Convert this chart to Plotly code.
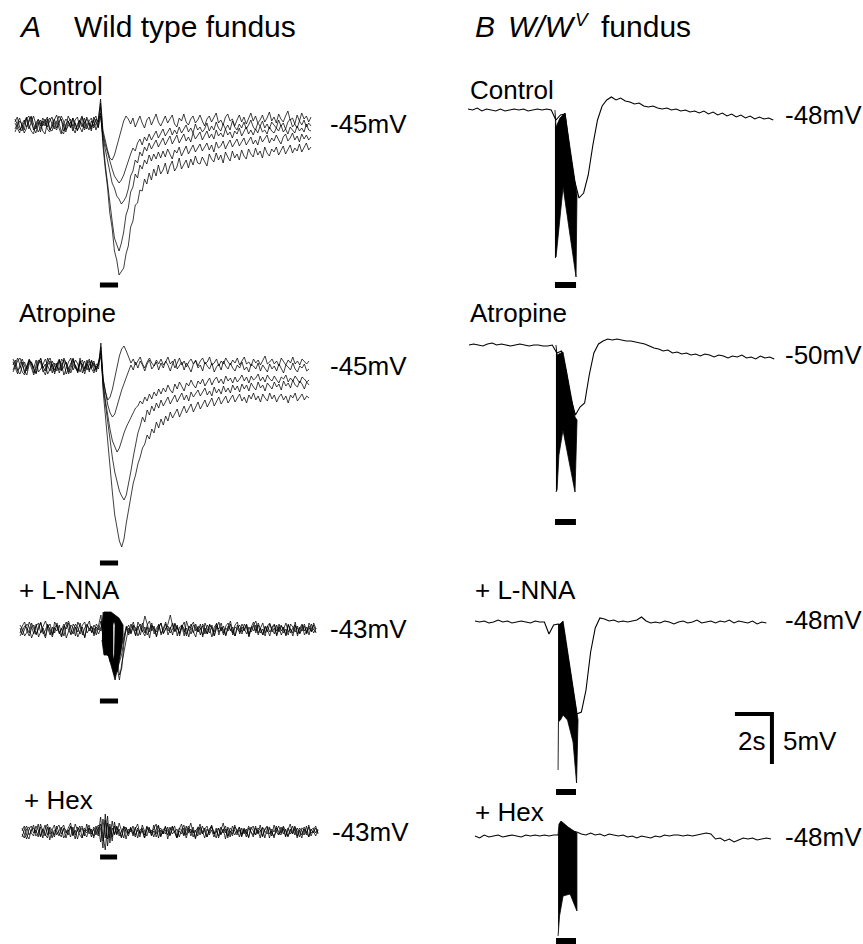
import plotly.graph_objects as go

# ------------------------------------------------------------------
# DATA. Traces are deviations from the resting
# membrane potential (mV), sampled every DT seconds from trace start.
# ------------------------------------------------------------------
DT_A = 0.125  # s, wild-type traces
DT_B = 0.25   # s, W/Wv traces

CONDITIONS = ["Control", "Atropine", "+ L-NNA", "+ Hex"]
RESTING_A = [-45, -45, -43, -43]   # mV, wild type
RESTING_B = [-48, -50, -48, -48]   # mV, W/Wv

# ---- Panel A: wild type, superimposed IJPs ----
A_CONTROL_1 = [
    0.3,0.8,-0.2,-0.6,0.1,0.7,-0.4,0.2,0.9,0.1,-0.7,-0.3,0.4,-0.1,0.6,-0.5,
    -0.2,0.5,1.0,0.2,-0.6,-0.9,0.1,0.4,-0.3,0.7,0.2,-0.5,-0.1,0.8,0.3,-0.4,
    0.2,-0.6,0.5,0.9,-0.2,1.8,-2.0,-4.3,-6.2,-8.8,-10.3,-12.6,-13.5,-15.0,-14.6,-14.3,
    -12.9,-12.1,-10.2,-9.6,-8.0,-7.8,-6.5,-6.6,-5.4,-5.9,-4.8,-5.5,-4.4,-5.1,-4.0,-4.9,
    -4.5,-3.8,-4.9,-4.1,-3.6,-4.6,-4.2,-3.3,-4.4,-3.9,-3.5,-4.3,-3.4,-4.0,-3.1,-3.8,
    -3.9,-3.2,-3.6,-4.1,-2.9,-3.4,-3.7,-2.8,-3.5,-3.0,-3.8,-2.7,-3.2,-3.6,-2.6,-3.3,
    -2.9,-3.5,-2.5,-3.1,-3.4,-2.4,-2.9,-3.2,-2.3,-3.0,-2.6,-3.3,-2.2,-2.8,-3.1,-2.4,
    -2.7,-2.2,-3.0,-2.5,-2.1,-2.9,-2.4,-2.0,-2.8,-2.3,-2.6,-1.9,-2.7,-2.2,-1.8,-2.5,
    -2.2]
A_CONTROL_2 = [
    -0.4,0.2,0.7,-0.1,-0.8,-0.3,0.5,0.9,0.1,-0.4,0.3,-0.7,0.2,0.6,-0.2,0.4,
    0.8,-0.1,-0.5,0.3,0.6,-0.6,-0.2,0.9,0.4,-0.3,-0.8,0.1,0.5,-0.2,0.7,0.0,
    -0.5,0.4,-0.1,0.6,0.3,1.2,-1.6,-3.9,-5.8,-7.9,-9.6,-11.3,-12.0,-12.6,-11.8,-10.7,
    -9.0,-8.3,-6.7,-6.2,-4.9,-5.3,-4.0,-4.4,-3.5,-3.9,-3.0,-3.6,-2.9,-3.4,-2.7,-3.3,
    -2.6,-3.2,-2.4,-2.9,-3.4,-2.5,-2.8,-2.2,-3.1,-2.6,-2.1,-2.9,-2.4,-2.0,-2.7,-2.3,
    -1.9,-2.6,-2.2,-1.8,-2.5,-2.0,-2.7,-1.7,-2.3,-2.1,-1.6,-2.4,-1.9,-1.5,-2.2,-1.8,
    -1.4,-2.1,-1.7,-1.3,-2.0,-1.6,-1.2,-1.9,-1.5,-2.0,-1.1,-1.7,-1.4,-1.0,-1.8,-1.3,
    -1.6,-1.0,-1.5,-1.9,-1.2,-0.9,-1.6,-1.3,-0.8,-1.5,-1.1,-1.7,-0.9,-1.4,-1.0,-1.5,
    -1.2]
A_CONTROL_3 = [
    0.6,0.1,-0.5,-0.2,0.4,0.8,0.0,-0.6,-0.9,0.2,0.5,-0.1,0.7,0.3,-0.4,-0.7,
    0.1,0.6,-0.3,0.2,0.9,0.4,-0.5,-0.1,0.3,-0.6,0.5,0.8,-0.2,-0.7,0.2,0.6,
    0.1,-0.4,0.8,0.2,-0.3,0.9,-1.1,-2.4,-3.6,-4.7,-5.8,-6.3,-7.1,-7.4,-7.9,-7.6,
    -7.2,-6.4,-5.1,-4.6,-3.5,-3.8,-2.7,-3.1,-2.2,-2.6,-1.8,-2.4,-2.0,-1.5,-2.2,-1.7,
    -1.3,-2.0,-1.6,-1.1,-1.9,-1.4,-1.0,-1.8,-1.3,-0.9,-1.6,-1.2,-1.7,-0.8,-1.4,-1.1,
    -0.7,-1.5,-1.0,-0.6,-1.3,-0.9,-1.4,-0.5,-1.1,-0.8,-1.2,-0.4,-1.0,-0.7,-1.3,-0.6,
    -0.9,-0.3,-1.1,-0.6,-0.2,-0.9,-0.5,-1.0,-0.4,-0.8,-0.1,-0.7,-0.5,-0.9,-0.2,-0.6,
    -0.8,-0.3,-0.6,0.0,-0.7,-0.4,-0.9,-0.2,-0.5,-0.8,-0.1,-0.6,-0.3,-0.7,0.1,-0.5,
    -0.6]
A_CONTROL_4 = [
    -0.7,-0.2,0.4,0.1,-0.5,0.6,0.9,0.2,-0.3,-0.8,0.0,0.5,-0.1,0.3,0.8,-0.4,
    -0.6,0.2,0.4,-0.3,-0.9,0.1,0.6,0.3,-0.2,0.7,-0.4,-0.1,0.5,0.9,-0.5,0.0,
    0.4,0.7,-0.3,0.1,0.6,2.2,-0.8,-1.9,-2.8,-3.7,-4.4,-5.1,-5.4,-5.8,-5.5,-5.0,
    -4.3,-3.5,-2.9,-2.3,-2.6,-1.8,-1.4,-2.0,-1.2,-1.6,-0.9,-1.5,-1.1,-0.6,-1.3,-0.8,
    -0.4,-1.1,-0.7,-0.3,-1.0,-0.5,-0.9,-0.2,-0.8,-0.4,0.0,-0.7,-0.3,-0.8,0.1,-0.5,
    -0.2,-0.7,-0.4,0.2,-0.6,-0.1,-0.5,0.3,-0.3,-0.6,0.1,-0.4,0.0,-0.5,0.4,-0.2,
    -0.5,0.1,-0.3,0.3,-0.4,0.0,0.5,-0.2,-0.5,0.2,-0.1,0.4,-0.3,0.1,-0.4,0.3,
    0.0,-0.3,0.5,-0.1,0.2,-0.4,0.3,0.6,-0.2,0.1,-0.3,0.4,0.0,0.5,-0.2,0.2,
    -0.1]
A_CONTROL_5 = [
    0.2,-0.3,-0.8,0.1,0.5,-0.2,0.3,0.8,-0.5,-0.1,0.6,0.2,-0.6,-0.9,0.3,0.7,
    0.1,-0.4,0.2,0.9,0.5,-0.2,-0.7,0.3,0.6,-0.1,0.2,-0.6,0.4,0.1,-0.3,0.8,
    0.3,-0.2,0.5,-0.5,0.2,2.6,-0.5,-1.6,-2.5,-3.3,-3.5,-3.0,-2.2,-1.3,-0.4,0.4,
    0.9,0.6,0.1,0.7,-0.2,0.4,0.9,0.2,-0.3,0.5,0.8,0.0,0.6,1.1,0.3,-0.1,
    0.4,0.9,0.2,0.6,1.0,0.1,-0.2,0.7,0.4,1.1,0.3,0.0,0.6,0.9,0.2,0.5,
    1.0,0.4,-0.1,0.6,0.9,0.3,0.7,1.2,0.2,0.5,0.0,0.8,1.1,0.4,0.6,-0.1,
    0.5,1.0,0.3,0.8,0.1,0.6,1.2,0.4,0.9,0.2,0.5,1.0,0.3,0.7,1.3,0.4,
    0.8,0.2,1.1,0.6,0.3,0.9,1.4,0.5,0.7,0.1,1.0,0.4,1.2,0.6,0.9,0.3,
    0.8]

A_ATROPINE_1 = [
    0.5,-0.2,-0.7,0.3,0.8,0.1,-0.4,0.6,-0.1,-0.8,0.2,0.7,0.4,-0.5,-0.2,0.9,
    0.2,-0.6,0.4,0.1,-0.3,0.8,0.5,-0.7,-0.2,0.3,0.9,-0.1,-0.5,0.6,0.2,-0.4,
    0.7,-0.3,0.1,0.6,-0.5,0.4,2.0,-2.5,-5.0,-7.8,-10.4,-12.6,-14.8,-16.3,-17.4,-18.0,
    -17.2,-15.6,-14.1,-12.9,-11.6,-10.8,-9.7,-9.0,-8.1,-7.7,-6.8,-7.2,-6.2,-6.6,-5.5,-6.1,
    -5.2,-5.8,-4.9,-5.4,-4.5,-5.1,-4.7,-4.2,-5.0,-4.4,-3.9,-4.6,-4.1,-3.7,-4.5,-3.9,
    -3.5,-4.2,-3.8,-3.3,-4.0,-3.6,-3.1,-3.9,-3.4,-3.0,-3.7,-3.3,-2.9,-3.6,-3.2,-2.8,
    -3.5,-3.1,-2.7,-3.4,-3.0,-3.6,-2.8,-3.2,-2.6,-3.3,-2.9,-3.5,-2.7,-3.1,-3.4,-2.6,
    -3.2,-2.8,-3.5,-3.0,-2.7,-3.3,-2.9,-3.6,-2.8,-3.1,-2.6,-3.4,-3.0,-2.7,-3.3,-2.9,
    -3.1]
A_ATROPINE_2 = [
    -0.3,0.4,0.9,0.2,-0.5,-0.8,0.1,0.6,0.3,-0.2,-0.6,0.5,0.8,-0.1,0.3,-0.7,
    -0.2,0.6,0.1,-0.4,0.7,0.3,-0.8,-0.1,0.5,0.9,-0.3,0.2,-0.6,0.4,0.7,-0.2,
    0.3,-0.5,0.6,0.1,-0.2,0.5,1.4,-2.0,-3.9,-5.8,-7.6,-9.1,-10.5,-11.6,-12.4,-12.9,
    -13.3,-12.8,-11.7,-10.4,-9.0,-7.9,-6.6,-5.9,-5.0,-5.5,-4.3,-4.8,-3.9,-4.4,-3.6,-4.1,
    -3.3,-3.9,-3.5,-3.0,-3.7,-3.2,-2.8,-3.5,-3.0,-2.6,-3.3,-2.8,-3.4,-2.5,-3.0,-2.7,
    -2.3,-2.9,-2.5,-2.1,-2.8,-2.4,-2.9,-2.0,-2.6,-2.2,-2.7,-1.9,-2.5,-2.1,-2.6,-1.8,
    -2.3,-1.9,-2.5,-1.7,-2.2,-1.8,-2.4,-1.6,-2.0,-2.3,-1.5,-2.1,-1.8,-2.4,-1.6,-1.9,
    -2.2,-1.5,-2.0,-1.7,-2.3,-1.4,-1.9,-1.6,-2.1,-1.3,-1.8,-2.0,-1.4,-1.7,-2.2,-1.5,
    -1.8]
A_ATROPINE_3 = [
    0.8,0.2,-0.4,-0.7,0.1,0.5,-0.2,0.7,0.3,-0.6,-0.1,0.4,0.9,-0.3,-0.8,0.2,
    0.6,-0.1,-0.5,0.3,0.8,-0.4,0.1,0.5,-0.7,-0.2,0.6,0.2,-0.3,0.9,-0.6,0.0,
    0.4,0.8,-0.2,-0.6,0.3,0.1,1.6,-1.6,-3.4,-5.0,-6.3,-7.4,-8.0,-8.5,-8.1,-7.2,
    -6.6,-6.0,-5.5,-5.0,-4.6,-4.1,-3.9,-3.4,-3.7,-3.0,-3.4,-2.7,-3.2,-2.5,-2.9,-2.2,
    -2.7,-2.1,-2.5,-1.8,-2.3,-2.6,-1.7,-2.2,-1.5,-2.0,-2.4,-1.6,-1.9,-1.3,-1.8,-2.1,
    -1.4,-1.7,-1.2,-1.9,-1.5,-1.1,-1.8,-1.3,-1.0,-1.6,-1.2,-1.7,-0.9,-1.4,-1.1,-1.6,
    -1.0,-1.5,-1.2,-0.8,-1.4,-1.0,-1.6,-0.9,-1.3,-1.1,-0.7,-1.4,-1.0,-1.5,-0.8,-1.2,
    -1.4,-0.9,-1.3,-1.6,-1.0,-1.2,-0.8,-1.5,-1.1,-1.4,-0.9,-1.3,-1.6,-1.0,-1.2,-1.5,
    -1.3]
A_ATROPINE_4 = [
    -0.5,0.1,0.6,0.9,0.2,-0.4,-0.8,0.3,0.5,-0.1,0.7,-0.5,-0.2,0.4,0.8,0.1,
    -0.4,0.3,-0.7,0.2,0.6,-0.3,0.9,0.4,-0.2,-0.6,0.1,0.7,0.3,-0.5,0.2,0.6,
    -0.3,0.2,0.7,-0.4,0.1,-0.2,2.4,-1.2,-2.7,-3.8,-4.6,-5.0,-4.7,-4.0,-3.1,-2.3,
    -1.6,-0.9,-0.4,0.2,-0.3,0.5,-0.1,0.6,0.2,-0.4,0.3,0.7,-0.2,0.1,0.5,-0.3,
    0.4,-0.1,0.6,0.2,-0.4,0.3,0.8,-0.2,0.1,0.5,-0.3,0.4,0.0,-0.5,0.3,0.6,
    -0.1,0.2,-0.4,0.5,0.1,-0.2,0.4,-0.5,0.0,0.3,-0.3,0.6,0.1,-0.2,0.4,-0.1,
    -0.4,0.2,-0.1,0.5,-0.3,0.0,-0.5,0.3,0.1,-0.2,0.4,-0.4,0.2,-0.1,-0.5,0.3,
    -0.2,0.1,-0.4,0.3,-0.1,-0.6,0.2,0.0,-0.3,0.4,-0.2,-0.5,0.1,-0.1,0.3,-0.4,
    -0.2]
A_ATROPINE_5 = [
    0.2,0.7,-0.3,-0.1,0.5,-0.6,0.1,0.8,0.4,-0.2,-0.7,0.3,0.6,0.0,-0.4,0.5,
    0.9,0.2,-0.3,0.4,-0.6,0.1,0.7,0.3,-0.5,0.2,0.8,-0.1,-0.4,0.5,0.1,-0.7,
    0.2,0.6,-0.1,0.4,-0.3,0.5,1.0,-1.3,-2.5,-3.3,-3.0,-2.2,-1.0,0.2,1.1,1.8,
    2.1,1.6,0.9,0.4,0.8,0.2,0.6,1.0,0.3,-0.1,0.5,0.9,0.4,0.1,0.7,0.3,
    0.8,0.2,0.5,1.0,0.3,0.6,-0.1,0.4,0.9,0.2,0.6,0.0,0.5,0.8,0.3,0.7,
    0.1,0.6,0.9,0.3,0.5,1.0,0.2,0.4,0.8,0.1,0.6,0.3,0.9,0.5,0.2,0.7,
    0.4,0.9,0.2,0.6,1.0,0.3,0.5,0.1,0.8,0.4,0.7,0.2,0.6,1.1,0.3,0.5,
    0.8,0.3,0.6,0.1,0.9,0.5,0.2,0.7,0.4,1.0,0.3,0.6,0.2,0.8,0.5,0.3,
    0.6]

A_LNNA_1 = [
    0.5,0.1,-0.6,-0.2,0.8,0.3,-0.4,0.6,-0.7,-0.1,0.4,0.9,0.2,-0.5,0.3,-0.3,
    0.7,-0.4,0.1,0.6,-0.8,-0.2,0.5,0.2,-0.6,0.8,0.3,-0.1,-0.7,0.4,0.9,-0.3,
    0.2,-0.5,0.6,1.5,-1.2,-2.4,-1.8,-3.0,-2.2,-3.5,-4.2,-2.8,-1.5,-0.6,0.4,-0.3,
    0.6,0.1,-0.5,0.8,0.3,-0.2,-0.6,0.5,0.9,-0.1,0.4,-0.7,0.2,0.7,-0.3,0.1,
    0.6,1.5,0.4,-0.2,0.5,-0.6,0.3,0.8,-0.4,0.1,0.6,-0.2,-0.7,0.4,0.2,-0.5,
    0.7,0.1,-0.3,0.5,-0.6,0.2,0.8,-0.1,0.4,-0.5,0.3,0.9,-0.2,-0.6,0.5,0.1,
    -0.4,0.6,0.2,-0.7,0.3,0.8,-0.1,0.5,-0.3,0.1,-0.6,0.4,0.7,-0.2,0.2,-0.5,
    0.6,-0.1,0.3,-0.6,0.5,0.1,-0.3,0.8,-0.4,0.2,0.6,-0.5,0.0,0.4,-0.2,0.7,
    0.1]
A_LNNA_2 = [
    -0.3,0.4,0.8,-0.1,-0.6,0.2,0.5,-0.4,0.1,0.7,-0.2,-0.8,0.3,0.6,-0.5,0.2,
    -0.1,0.5,-0.6,0.3,0.8,0.0,-0.4,0.6,0.2,-0.7,-0.1,0.5,0.8,-0.3,0.1,0.4,
    -0.6,0.3,0.0,0.9,-0.8,-1.9,-2.6,-1.5,-3.2,-2.5,-3.8,-5.0,-3.4,-2.0,-0.9,0.2,
    -0.4,0.5,0.2,-0.6,0.1,0.7,-0.3,0.3,-0.8,0.4,0.1,-0.2,0.6,-0.5,0.2,0.8,
    -0.1,0.3,-0.5,0.6,0.2,-0.3,0.4,-0.6,0.9,0.1,-0.4,0.5,0.2,-0.2,0.6,-0.7,
    0.2,-0.4,0.6,0.1,-0.2,0.7,-0.5,0.3,0.0,-0.6,0.4,0.1,-0.3,0.5,0.8,-0.4,
    0.3,-0.1,0.5,-0.6,0.2,0.4,-0.3,0.7,0.1,-0.5,0.3,-0.2,0.6,0.0,-0.4,0.5,
    -0.2,0.4,0.1,-0.5,0.6,-0.3,0.2,0.5,-0.6,0.3,-0.1,0.4,-0.4,0.7,0.1,-0.3,
    0.2]
A_LNNA_3 = [
    0.2,-0.5,0.1,0.6,0.3,-0.8,-0.2,0.4,0.7,-0.3,0.2,-0.6,0.5,0.1,-0.4,0.8,
    0.3,-0.2,-0.7,0.4,0.1,0.7,-0.5,-0.1,0.6,0.2,-0.4,0.3,-0.8,0.5,0.2,-0.2,
    0.5,0.1,-0.4,0.3,0.8,-2.0,-1.4,-3.2,-2.0,-4.1,-3.0,-4.5,-3.8,-1.2,0.3,-0.5,
    0.2,0.8,-0.1,0.4,-0.5,0.3,1.4,0.6,-0.2,0.5,0.1,-0.6,0.3,0.7,-0.4,0.2,
    0.4,-0.3,0.1,0.7,-0.6,0.3,0.5,-0.2,0.2,-0.7,0.4,0.8,-0.1,0.3,-0.5,0.6,
    0.0,-0.4,0.5,0.2,-0.6,0.4,0.1,0.7,-0.3,0.2,-0.1,0.6,-0.5,0.3,0.1,-0.2,
    0.6,0.1,-0.4,0.3,-0.2,0.5,0.9,-0.3,0.2,-0.5,0.4,0.0,-0.6,0.3,0.6,-0.1,
    0.3,-0.5,0.2,0.7,-0.2,0.1,-0.6,0.4,0.2,-0.3,0.5,-0.1,0.3,-0.5,0.6,0.0,
    -0.2]
A_LNNA_4 = [
    -0.6,-0.1,0.4,0.2,-0.3,0.7,0.1,-0.5,0.3,0.8,-0.4,0.0,0.6,-0.2,-0.7,0.3,
    0.5,-0.3,0.2,-0.6,0.4,0.9,0.1,-0.4,0.3,-0.2,0.7,-0.5,0.2,0.6,-0.1,0.3,
    -0.4,0.6,0.2,-0.1,1.8,-1.0,-2.2,-2.9,-1.6,-2.8,-4.0,-3.2,-2.4,-0.8,0.1,0.5,
    -0.3,0.4,-0.6,0.2,0.6,-0.2,0.3,-0.5,0.1,0.7,-0.4,0.2,0.5,-0.3,0.0,0.6,
    -0.5,0.2,0.7,-0.1,0.3,-0.4,0.5,0.1,-0.6,0.4,0.2,-0.3,0.6,-0.2,0.1,0.4,
    -0.4,0.5,0.1,-0.7,0.3,0.6,-0.2,0.2,-0.5,0.4,0.7,-0.1,0.3,-0.6,0.2,0.5,
    -0.2,0.1,0.6,-0.4,0.3,-0.1,0.5,-0.5,0.2,0.7,-0.3,0.4,-0.2,0.1,0.5,-0.6,
    0.2,0.5,-0.3,0.1,-0.5,0.6,0.3,-0.2,0.4,-0.4,0.1,0.6,-0.3,0.2,-0.1,0.5,
    -0.3]

A_HEX_1 = [
    0.4,-0.2,-0.7,0.3,0.6,-0.1,0.2,-0.5,0.8,0.1,-0.4,0.5,-0.8,0.2,0.7,-0.3,
    0.1,0.5,-0.6,-0.2,0.4,0.9,-0.3,0.2,-0.7,0.3,0.6,-0.1,-0.5,0.4,0.1,-0.4,
    0.6,-0.2,1.5,-0.9,1.2,-1.4,0.8,-0.5,0.6,-0.3,0.9,0.2,-0.6,0.4,-0.1,0.5,
    -0.4,0.3,0.8,-0.2,0.1,-0.6,0.5,0.2,-0.3,0.7,-0.5,0.1,0.4,-0.2,0.6,-0.7,
    0.2,0.5,-0.1,-0.6,0.3,0.8,-0.3,0.1,0.6,-0.4,0.2,-0.7,0.5,0.3,-0.2,0.4,
    -0.5,0.1,0.7,-0.2,0.4,-0.6,0.2,0.9,-0.1,0.3,-0.5,0.6,0.1,-0.3,0.5,-0.4,
    0.3,-0.2,0.6,0.1,-0.5,0.4,-0.1,0.7,-0.4,0.2,0.5,-0.6,0.3,0.0,0.6,-0.3,
    0.1,0.5,-0.4,0.2,0.8,-0.2,0.3,-0.6,0.4,0.1,-0.3,0.6,-0.5,0.2,0.4,-0.1,
    0.3]
A_HEX_2 = [
    -0.5,0.2,0.6,-0.3,0.1,0.7,-0.4,-0.1,0.5,-0.6,0.3,0.8,-0.2,0.0,-0.5,0.4,
    0.7,-0.2,0.3,-0.6,0.1,0.5,-0.4,0.8,0.2,-0.3,-0.6,0.4,0.1,0.7,-0.2,0.3,
    -0.3,0.5,-1.0,1.3,-0.6,1.6,-1.1,0.4,-0.2,0.6,-0.4,0.1,0.5,-0.7,0.3,0.0,
    0.6,-0.3,0.2,-0.5,0.7,0.1,-0.4,0.4,-0.1,0.3,0.8,-0.6,0.2,-0.2,0.5,0.1,
    -0.4,0.6,0.0,0.3,-0.5,0.2,0.7,-0.3,0.4,-0.1,0.5,-0.6,0.1,0.8,-0.2,0.3,
    0.6,-0.3,0.2,-0.5,0.1,0.4,-0.2,0.3,-0.7,0.5,0.1,-0.4,0.7,-0.1,0.2,-0.5,
    0.4,-0.1,-0.5,0.3,0.6,-0.3,0.2,-0.6,0.5,0.1,-0.2,0.4,-0.4,0.7,0.0,-0.3,
    0.5,-0.2,0.3,-0.5,0.1,0.6,-0.3,0.4,0.0,-0.6,0.3,-0.1,0.5,-0.4,0.2,0.6,
    -0.2]
A_HEX_3 = [
    0.1,0.6,-0.3,-0.7,0.2,0.4,-0.1,0.8,-0.4,0.3,-0.2,-0.6,0.5,0.2,-0.3,0.6,
    -0.1,-0.5,0.4,0.2,-0.3,0.6,0.1,-0.7,0.5,0.0,0.4,-0.4,0.8,-0.2,0.3,-0.6,
    0.2,0.7,0.3,-1.6,1.8,-0.7,0.5,-0.9,1.0,-0.2,0.3,-0.5,0.6,0.1,-0.4,0.3,
    -0.2,0.5,-0.6,0.2,0.4,-0.3,0.6,-0.1,0.2,-0.5,0.3,0.7,-0.4,0.1,-0.2,0.5,
    -0.3,0.2,0.6,-0.5,0.1,-0.2,0.4,-0.6,0.3,0.9,-0.1,0.2,-0.4,0.5,0.1,-0.6,
    0.3,-0.1,0.5,0.0,-0.6,0.4,-0.3,0.2,0.6,-0.4,0.1,-0.2,0.5,0.2,-0.5,0.4,
    -0.2,0.3,-0.6,0.5,0.1,-0.3,0.4,0.2,-0.5,0.3,0.6,-0.2,0.1,-0.6,0.4,0.1,
    -0.3,0.6,0.0,-0.4,0.3,-0.2,0.5,0.1,-0.5,0.4,0.2,-0.3,0.7,-0.1,0.1,-0.4,
    0.2]
A_HEX_4 = [
    -0.2,-0.6,0.3,0.5,-0.1,-0.4,0.6,0.2,-0.5,0.1,0.7,-0.3,0.4,-0.6,0.2,0.1,
    -0.4,0.3,0.7,-0.1,0.2,-0.5,0.5,-0.3,0.1,0.6,-0.6,0.2,-0.1,0.4,-0.5,0.5,
    0.1,-0.4,0.8,-0.3,-1.8,0.9,-0.6,1.1,-0.3,0.5,0.0,-0.6,0.3,0.5,-0.2,0.4,
    0.1,-0.5,0.4,-0.1,0.3,-0.6,0.2,0.5,-0.4,0.1,-0.2,0.6,-0.5,0.3,0.2,-0.3,
    0.5,-0.2,0.1,-0.6,0.4,0.2,-0.4,0.6,-0.1,0.3,-0.5,0.1,0.4,-0.3,0.6,0.0,
    -0.5,0.3,0.6,-0.2,0.1,-0.4,0.5,-0.1,0.3,-0.6,0.4,0.2,-0.3,0.1,0.5,-0.2,
    0.2,-0.5,0.4,0.0,-0.3,0.6,-0.2,0.1,0.4,-0.6,0.3,0.5,-0.1,-0.4,0.2,0.6,
    -0.1,0.3,-0.5,0.4,-0.2,0.1,0.6,-0.4,0.2,-0.3,0.5,0.0,-0.5,0.3,-0.1,0.4,
    -0.1]

# ---- Panel B: W/Wv, single traces ----
B_CONTROL = [0.1,0.0,0.2,-0.1,0.1,0.0,-0.1,0.1,-0.1,0.0,0.1,0.0,0.1,-0.1,0.0,0.1,0.0,0.1,0.0,
             -1.0,-0.5,-0.4,-4.0,-7.0,-8.8,-8.3,-6.5,-3.5,-1.0,0.4,1.0,1.3,1.0,1.2,0.9,0.8,0.6,0.7,
             0.4,0.3,0.4,0.2,0.1,0.2,0.0,0.1,-0.1,0.0,-0.2,-0.1,-0.3,-0.1,-0.4,-0.2,-0.5,-0.3,
             -0.6,-0.4,-0.7,-0.5,-0.8,-0.6,-0.9,-0.7,-0.9,-0.8,-1.0]
B_ATROPINE = [0.0,0.1,0.0,-0.1,0.1,0.2,0.0,0.1,0.0,-0.1,0.0,0.1,0.0,-0.1,0.0,0.0,-0.1,-0.1,0.0,
              -0.8,-0.6,-2.6,-5.3,-7.0,-6.2,-5.8,-3.0,-0.8,0.1,0.4,0.6,0.5,0.6,0.5,0.4,0.4,0.3,0.2,
              0.1,-0.1,-0.3,-0.4,-0.6,-0.5,-0.8,-0.7,-0.9,-0.8,-1.0,-0.9,-1.1,-0.9,-1.0,-1.2,-1.0,-1.1,
              -1.3,-1.1,-1.2,-1.0,-1.3,-1.2,-1.4,-1.1,-1.3,-1.2,-1.4]
B_LNNA = [0.1,0.0,0.1,-0.1,0.0,0.2,0.0,0.1,-0.1,0.0,0.1,0.0,-0.1,0.1,0.0,0.0,-1.2,-0.3,-0.2,
          -0.3,-3.2,-6.1,-9.2,-9.0,-6.8,-3.0,-0.6,0.4,0.3,0.1,0.2,0.0,0.1,0.0,0.1,0.2,0.5,0.1,
          -0.1,0.0,-0.1,0.1,0.0,-0.2,0.0,0.1,-0.1,0.0,0.2,-0.1,0.0,0.1,-0.1,0.1,0.0,0.2,
          -0.1,0.1,0.0,-0.1,0.1,-0.2,0.0,-0.1]
B_HEX = [0.0,-0.2,0.1,-0.1,0.0,0.1,-0.1,0.0,0.1,0.0,-0.1,0.1,0.0,0.1,0.0,0.1,0.0,0.1,0.1,
         0.8,0.6,0.5,0.4,0.2,0.1,0.3,0.1,0.2,0.0,0.2,0.1,0.0,0.1,-0.1,0.0,-0.2,0.0,-0.1,
         -0.2,0.0,-0.1,0.1,0.0,0.1,0.1,0.0,0.1,0.0,0.1,0.2,0.3,0.2,-0.3,-0.2,-0.5,-0.3,
         -0.6,-0.4,-0.2,-0.3,-0.2,-0.4,-0.3,-0.2,-0.3]

# Stimulus-artefact envelopes in W/Wv traces (time s, upper / lower mV)
B_ART_HI_T = [[4.70, 4.76, 4.97, 5.24, 5.89], [4.70, 4.76, 5.08, 5.73, 5.84],
              [4.49, 4.54, 4.76, 5.57], [4.49, 4.54, 4.65, 5.03, 5.51]]
B_ART_HI_V = [[0.0, -1.7, -0.8, -0.3, -8.5], [0.0, -1.0, -0.7, -7.2, -7.5],
              [-0.2, -0.3, 0.1, -9.8], [0.1, 1.2, 1.5, 0.9, 0.3]]
B_ART_LO_T = [[4.70, 4.76, 4.86, 5.14, 5.84, 5.89], [4.70, 4.76, 4.86, 5.08, 5.73, 5.84],
              [4.49, 4.51, 4.62, 4.76, 5.00, 5.30, 5.49, 5.57], [4.49, 4.57, 4.76, 5.14, 5.51]]
B_ART_LO_V = [[-14.8, -14.7, -12.5, -7.7, -16.7, -8.5], [-14.7, -14.5, -11.0, -8.5, -14.7, -7.5],
              [-14.8, -10.0, -9.8, -9.3, -9.8, -12.0, -16.1, -9.8], [-10.0, -8.0, -6.0, -5.8, -7.5]]
# Artefact envelope in wild-type + L-NNA, and the narrow clear slit inside it
A_LNNA_ART_HI_T = [4.43, 4.54, 4.92, 5.35, 5.57]
A_LNNA_ART_HI_V = [0.5, 1.8, 1.8, 1.2, 0.5]
A_LNNA_ART_LO_T = [4.43, 4.54, 4.76, 4.92, 5.14, 5.35, 5.46, 5.57]
A_LNNA_ART_LO_V = [-1.0, -2.5, -2.5, -3.5, -5.0, -3.0, -2.0, -0.5]
A_LNNA_GAP_T = [5.04, 5.08, 5.12]
A_LNNA_GAP_HI = [0.5, 0.8, 0.5]
A_LNNA_GAP_LO = [-2.4, -2.9, -2.4]

# Stimulus (bar) on/off times per panel, s
STIM_ON  = [4.59, 4.70, 4.32, 4.22, 4.70, 4.65, 4.38, 4.38]
STIM_OFF = [5.57, 5.68, 5.30, 5.14, 5.84, 5.78, 5.46, 5.46]

SCALE_S, SCALE_MV = 2, 5

# ------------------------------------------------------------------
# LAYOUT / STYLE
# ------------------------------------------------------------------
W, H = 863, 944
PX_PER_S, PX_PER_MV = 18.5, 10.0
FONT = "Liberation Sans, Arial, sans-serif"

A_SETS = [[A_CONTROL_1, A_CONTROL_2, A_CONTROL_3, A_CONTROL_4, A_CONTROL_5],
          [A_ATROPINE_1, A_ATROPINE_2, A_ATROPINE_3, A_ATROPINE_4, A_ATROPINE_5],
          [A_LNNA_1, A_LNNA_2, A_LNNA_3, A_LNNA_4],
          [A_HEX_1, A_HEX_2, A_HEX_3, A_HEX_4]]
B_SETS = [[B_CONTROL], [B_ATROPINE], [B_LNNA], [B_HEX]]

# panel origin in pixels (t = 0, 0 mV), bar level (mV), label positions (px)
PANEL_POS = [
    dict(x0=15, y0=125, bar=-16.0, lab=(17, 86), vlab=(328, 124)),
    dict(x0=13, y0=367, bar=-19.6, lab=(17, 313), vlab=(328, 366)),
    dict(x0=20, y0=630, bar=-7.1, lab=(17, 590), vlab=(328, 629)),
    dict(x0=22, y0=832, bar=-2.5, lab=(22, 800), vlab=(330, 832)),
    dict(x0=468, y0=110, bar=-17.5, lab=(468, 90), vlab=(783, 115)),
    dict(x0=469, y0=345, bar=-17.7, lab=(468, 313), vlab=(783, 355)),
    dict(x0=475, y0=622, bar=-17.0, lab=(473, 590), vlab=(783, 620)),
    dict(x0=475, y0=836, bar=-10.5, lab=(473, 812), vlab=(783, 837)),
]

fig = go.Figure()
layout = dict(width=W, height=H, autosize=False, margin=dict(l=0, r=0, t=0, b=0),
              paper_bgcolor="white", plot_bgcolor="rgba(0,0,0,0)", showlegend=False)
annotations = []


def px(x, y):
    return x / W, 1 - y / H


def add_text(text, x, y, size, anchor="left"):
    fx, fy = px(x, y)
    annotations.append(dict(text=text, x=fx, y=fy, xref="paper", yref="paper",
                            xanchor=anchor, yanchor="middle", showarrow=False,
                            font=dict(family=FONT, size=size, color="black")))


def add_envelope(ht, hv, lt, lv, xa, ya, color, lw=0.8):
    fig.add_trace(go.Scatter(x=list(ht) + list(lt)[::-1], y=list(hv) + list(lv)[::-1],
                             mode="lines", fill="toself", fillcolor=color,
                             line=dict(color=color, width=lw), xaxis=xa, yaxis=ya,
                             hoverinfo="skip"))


all_sets = A_SETS + B_SETS
resting = RESTING_A + RESTING_B
for i, pos in enumerate(PANEL_POS):
    n = i + 1
    xa = "x" if n == 1 else f"x{n}"
    ya = "y" if n == 1 else f"y{n}"
    xkey = "xaxis" if n == 1 else f"xaxis{n}"
    ykey = "yaxis" if n == 1 else f"yaxis{n}"
    layout[xkey] = dict(domain=[0, 1], anchor=ya, visible=False, fixedrange=True,
                        range=[-pos["x0"] / PX_PER_S, (W - pos["x0"]) / PX_PER_S])
    layout[ykey] = dict(domain=[0, 1], anchor=xa, visible=False, fixedrange=True,
                        range=[-(H - pos["y0"]) / PX_PER_MV, pos["y0"] / PX_PER_MV])
    dt = DT_A if i < 4 else DT_B
    lw = 0.75 if i < 4 else 1.1
    for tr in all_sets[i]:
        fig.add_trace(go.Scatter(x=[k * dt for k in range(len(tr))], y=tr, mode="lines",
                                 line=dict(color="black", width=lw), xaxis=xa, yaxis=ya,
                                 hoverinfo="skip"))
    if i == 2:
        add_envelope(A_LNNA_ART_HI_T, A_LNNA_ART_HI_V, A_LNNA_ART_LO_T, A_LNNA_ART_LO_V,
                     xa, ya, "black")
        add_envelope(A_LNNA_GAP_T, A_LNNA_GAP_HI, A_LNNA_GAP_T, A_LNNA_GAP_LO,
                     xa, ya, "white", lw=0)
    elif i >= 4:
        j = i - 4
        add_envelope(B_ART_HI_T[j], B_ART_HI_V[j], B_ART_LO_T[j], B_ART_LO_V[j],
                     xa, ya, "black")
    # stimulus bar
    fig.add_trace(go.Scatter(x=[STIM_ON[i], STIM_OFF[i]], y=[pos["bar"], pos["bar"]],
                             mode="lines", line=dict(color="black", width=5 if i < 4 else 6),
                             xaxis=xa, yaxis=ya, hoverinfo="skip"))
    add_text(CONDITIONS[i % 4], pos["lab"][0], pos["lab"][1], 26)
    add_text(f"{resting[i]}mV", pos["vlab"][0], pos["vlab"][1], 26)

# scale bar (in the W/Wv + L-NNA axes)
t_c, v_c = 16.05, -9.2
fig.add_trace(go.Scatter(x=[t_c - SCALE_S, t_c, t_c], y=[v_c, v_c, v_c - SCALE_MV],
                         mode="lines", line=dict(color="black", width=4),
                         xaxis="x7", yaxis="y7", hoverinfo="skip"))
add_text(f"{SCALE_S}s", 767, 741, 26, anchor="right")
add_text(f"{SCALE_MV}mV", 781, 741, 26)

# panel titles
add_text("<i>A</i>", 17, 26, 30)
add_text("Wild type fundus", 72, 26, 30)
add_text("<i>B</i>", 473, 26, 30)
add_text("<i>W/W</i>", 506, 26, 30)
add_text("<i>V</i>", 573, 19, 19)
add_text("fundus", 599, 26, 30)

layout["annotations"] = annotations
fig.update_layout(**layout)

fig.write_html("out.html", include_plotlyjs=True,
               config={"displayModeBar": False, "staticPlot": True},
               post_script="document.body.style.margin='0';document.body.style.overflow='hidden';")
